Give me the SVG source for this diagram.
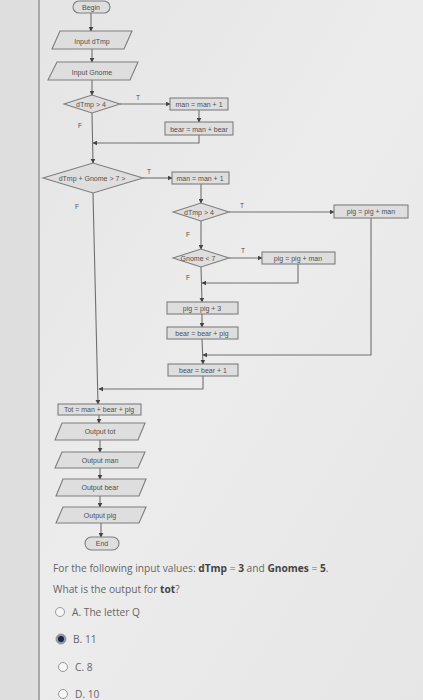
<svg xmlns="http://www.w3.org/2000/svg" width="423" height="700" viewBox="0 0 423 700">
<defs>
<marker id="ah" viewBox="0 0 8 8" refX="7" refY="4" markerWidth="5" markerHeight="5" orient="auto" markerUnits="userSpaceOnUse">
<path d="M0,0 L8,4 L0,8 z" fill="#444"/>
</marker>
<linearGradient id="bg" x1="0" y1="0" x2="1" y2="1">
<stop offset="0" stop-color="#e4e4e4"/>
<stop offset="0.5" stop-color="#ececec"/>
<stop offset="1" stop-color="#e6e6e6"/>
</linearGradient>
</defs>
<style>
.box{fill:#dedede;stroke:#7e7e7e;stroke-width:1.1}
.t{font-family:"Liberation Sans",Arial,sans-serif;font-size:7px;fill:#505050;text-anchor:middle;dominant-baseline:central}
.lbl{font-family:"Liberation Sans",Arial,sans-serif;font-size:6.5px;fill:#505050;text-anchor:middle;dominant-baseline:central}
.c{fill:none;stroke:#707070;stroke-width:1.1}
.q{font-family:"Open Sans","Liberation Sans",sans-serif;font-size:10.2px;fill:#666}
.qb{font-weight:bold;fill:#444}
.radio{fill:#f6f6f6;stroke:#999;stroke-width:1}
</style>
<rect x="0" y="0" width="423" height="700" fill="url(#bg)"/>
<rect x="0" y="0" width="38" height="700" fill="#dedede"/>
<line x1="39" y1="0" x2="39" y2="700" stroke="#a8a8a8" stroke-width="2"/>

<g id="connectors">
<line class="c" x1="91" y1="13" x2="91" y2="31" marker-end="url(#ah)"/>
<line class="c" x1="92" y1="49" x2="92" y2="62" marker-end="url(#ah)"/>
<line class="c" x1="92" y1="80" x2="92" y2="95" marker-end="url(#ah)"/>
<line class="c" x1="120" y1="104" x2="170" y2="104" marker-end="url(#ah)"/>
<line class="c" x1="199" y1="110" x2="199" y2="122" marker-end="url(#ah)"/>
<polyline class="c" points="199,135 199,143 93,143" marker-end="url(#ah)"/>
<line class="c" x1="92" y1="113" x2="93" y2="163" marker-end="url(#ah)"/>
<line class="c" x1="143" y1="178" x2="172" y2="178" marker-end="url(#ah)"/>
<line class="c" x1="201" y1="184" x2="201" y2="203" marker-end="url(#ah)"/>
<line class="c" x1="229" y1="212" x2="334" y2="212" marker-end="url(#ah)"/>
<line class="c" x1="201" y1="221" x2="201" y2="249" marker-end="url(#ah)"/>
<line class="c" x1="229" y1="258" x2="262" y2="258" marker-end="url(#ah)"/>
<polyline class="c" points="298,264 298,283 202,283" marker-end="url(#ah)"/>
<line class="c" x1="201" y1="267" x2="202" y2="302" marker-end="url(#ah)"/>
<line class="c" x1="202" y1="314" x2="202" y2="327" marker-end="url(#ah)"/>
<line class="c" x1="202" y1="339" x2="203" y2="364" marker-end="url(#ah)"/>
<polyline class="c" points="371,218 371,355 203,355" marker-end="url(#ah)"/>
<polyline class="c" points="203,376 203,389 99,389" marker-end="url(#ah)"/>
<line class="c" x1="93" y1="193" x2="98" y2="404" marker-end="url(#ah)"/>
<line class="c" x1="99" y1="415" x2="99" y2="423" marker-end="url(#ah)"/>
<line class="c" x1="100" y1="440" x2="100" y2="452" marker-end="url(#ah)"/>
<line class="c" x1="100" y1="468" x2="100" y2="479" marker-end="url(#ah)"/>
<line class="c" x1="100" y1="496" x2="100" y2="507" marker-end="url(#ah)"/>
<line class="c" x1="101" y1="523" x2="101" y2="537" marker-end="url(#ah)"/>
<text class="lbl" x="138" y="97">T</text>
<text class="lbl" x="80" y="125">F</text>
<text class="lbl" x="149" y="171">T</text>
<text class="lbl" x="77" y="206">F</text>
<text class="lbl" x="242" y="205">T</text>
<text class="lbl" x="188" y="234">F</text>
<text class="lbl" x="243" y="250">T</text>
<text class="lbl" x="188" y="277">F</text>
</g>

<g id="begin"><rect class="box" x="73" y="1" width="37" height="12" rx="6"/><text class="t" x="91" y="7">Begin</text></g>
<g id="input-dtmp"><polygon class="box" points="60,31 132,31 124,49 52,49"/><text class="t" x="92" y="41">Input dTmp</text></g>
<g id="input-gnome"><polygon class="box" points="57,62 138,62 130,80 48,80"/><text class="t" x="92" y="72">Input Gnome</text></g>
<g id="dec1"><polygon class="box" points="64,104 92,95 120,104 92,113"/><text class="t" x="91" y="104">dTmp &gt; 4</text></g>
<g id="man1"><rect class="box" x="170" y="98" width="58" height="12"/><text class="t" x="199" y="104">man = man + 1</text></g>
<g id="bear1"><rect class="box" x="165" y="122" width="68" height="13"/><text class="t" x="199" y="129">bear = man + bear</text></g>
<g id="dec2"><polygon class="box" points="43,178 93,163 143,178 93,193"/><text class="t" x="92" y="178">dTmp + Gnome &gt; 7 &gt;</text></g>
<g id="man2"><rect class="box" x="172" y="172" width="57" height="12"/><text class="t" x="200" y="178">man = man + 1</text></g>
<g id="dec3"><polygon class="box" points="173,212 201,203 229,212 201,221"/><text class="t" x="199" y="212">dTmp &gt; 4</text></g>
<g id="pig1"><rect class="box" x="334" y="205" width="74" height="13"/><text class="t" x="371" y="211.5">pig = pig + man</text></g>
<g id="dec4"><polygon class="box" points="173,258 201,249 229,258 201,267"/><text class="t" x="198" y="258">Gnome &lt; 7</text></g>
<g id="pig2"><rect class="box" x="262" y="252" width="73" height="12"/><text class="t" x="298" y="258">pig = pig + man</text></g>
<g id="pig3"><rect class="box" x="167" y="302" width="71" height="12"/><text class="t" x="202" y="308">pig = pig + 3</text></g>
<g id="bear2"><rect class="box" x="167" y="327" width="71" height="12"/><text class="t" x="202" y="333">bear = bear + pig</text></g>
<g id="bear3"><rect class="box" x="168" y="364" width="70" height="12"/><text class="t" x="203" y="370">bear = bear + 1</text></g>
<g id="tot"><rect class="box" x="58" y="404" width="83" height="11"/><text class="t" x="99" y="409.5">Tot = man + bear + pig</text></g>
<g id="out-tot"><polygon class="box" points="62,423 145,423 138,440 55,440"/><text class="t" x="100" y="431.5">Output tot</text></g>
<g id="out-man"><polygon class="box" points="62,452 145,452 138,468 55,468"/><text class="t" x="100" y="460">Output man</text></g>
<g id="out-bear"><polygon class="box" points="63,479 146,479 139,496 56,496"/><text class="t" x="100" y="487.5">Output bear</text></g>
<g id="out-pig"><polygon class="box" points="63,507 146,507 139,523 56,523"/><text class="t" x="100" y="515">Output pig</text></g>
<g id="end"><rect class="box" x="85" y="537" width="34" height="13" rx="6.5"/><text class="t" x="102" y="543.5">End</text></g>

<g id="question">
<text class="q" x="53" y="572">For the following input values: <tspan class="qb">dTmp</tspan> = <tspan class="qb">3</tspan> and <tspan class="qb">Gnomes</tspan> = <tspan class="qb">5</tspan>.</text>
<text class="q" x="53" y="593">What is the output for <tspan class="qb">tot</tspan>?</text>
<circle class="radio" cx="60" cy="612" r="4.5"/>
<text class="q" x="72" y="615.5">A. The letter Q</text>
<circle cx="61" cy="639" r="5" fill="#8a96b0" stroke="#999"/>
<circle cx="61" cy="639" r="3" fill="#1c2440"/>
<text class="q" x="73" y="642.5">B. 11</text>
<circle class="radio" cx="63" cy="667" r="4.5"/>
<text class="q" x="75" y="670.5">C. 8</text>
<circle class="radio" cx="63" cy="694" r="4.5"/>
<text class="q" x="75" y="697.5">D. 10</text>
</g>
</svg>
